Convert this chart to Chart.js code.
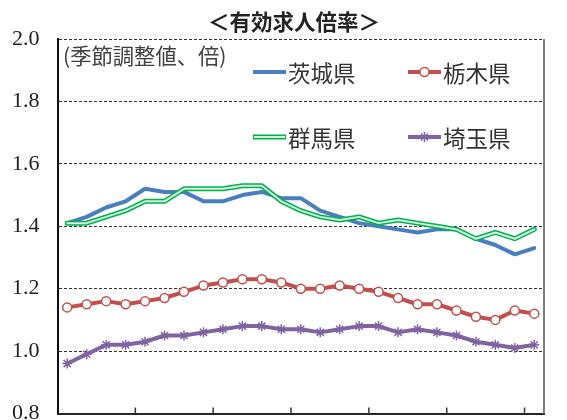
<!DOCTYPE html>
<html lang="ja">
<head>
<meta charset="utf-8">
<script src="https://cdn.jsdelivr.net/npm/chart.js@4/dist/chart.umd.min.js"></script>
<style>
  html, body { margin: 0; padding: 0; background: #fff; }
</style>
</head>
<body>
<canvas id="jobRatioChart" width="567" height="420"></canvas>
<script>
const MONTHS = [
  "1月", "2月", "3月", "4月", "5月", "6月", "7月", "8月", "9月", "10月", "11月", "12月",
  "1月", "2月", "3月", "4月", "5月", "6月", "7月", "8月", "9月", "10月", "11月", "12月",
  "1月"
];

const IBARAKI = [1.41, 1.43, 1.46, 1.48, 1.52, 1.51, 1.51, 1.48, 1.48, 1.50, 1.51, 1.49, 1.49,
  1.45, 1.43, 1.41, 1.40, 1.39, 1.38, 1.39, 1.39, 1.36, 1.34, 1.31, 1.33];
const TOCHIGI = [1.14, 1.15, 1.16, 1.15, 1.16, 1.17, 1.19, 1.21, 1.22, 1.23, 1.23, 1.22, 1.20,
  1.20, 1.21, 1.20, 1.19, 1.17, 1.15, 1.15, 1.13, 1.11, 1.10, 1.13, 1.12];
const GUNMA = [1.41, 1.41, 1.43, 1.45, 1.48, 1.48, 1.52, 1.52, 1.52, 1.53, 1.53, 1.48, 1.45,
  1.43, 1.42, 1.43, 1.41, 1.42, 1.41, 1.40, 1.39, 1.36, 1.38, 1.36, 1.39];
const SAITAMA = [0.96, 0.99, 1.02, 1.02, 1.03, 1.05, 1.05, 1.06, 1.07, 1.08, 1.08, 1.07, 1.07,
  1.06, 1.07, 1.08, 1.08, 1.06, 1.07, 1.06, 1.05, 1.03, 1.02, 1.01, 1.02];

const Y_MIN = 0.8;
const Y_MAX = 2.0;
const Y_STEP = 0.2;
const TICK_EVERY = 4;

const TITLE = "＜有効求人倍率＞";
const NOTE = "(季節調整値、倍)";

const BLUE = "#4a7ebf";
const RED = "#c0504d";
const GREEN = "#00b050";
const GREEN_INNER = "#d4f4dc";
const PURPLE = "#8064a2";
const JP_FONT = '"Noto Sans CJK JP", "Noto Sans", sans-serif';

/* ===== legend sample drawing ===== */
function drawStar(ctx, cx, cy, r, color) {
  ctx.strokeStyle = color;
  ctx.lineWidth = 1.5;
  ctx.beginPath();
  for (let k = 0; k < 4; k++) {
    const a = k * Math.PI / 4;
    ctx.moveTo(cx - Math.cos(a) * r, cy - Math.sin(a) * r);
    ctx.lineTo(cx + Math.cos(a) * r, cy + Math.sin(a) * r);
  }
  ctx.stroke();
}

function drawLegendItem(ctx, ds, x, y) {
  const len = 33;
  ctx.lineCap = "butt";
  ctx.strokeStyle = ds.borderColor;
  ctx.lineWidth = ds.borderWidth;
  ctx.beginPath();
  ctx.moveTo(x, y);
  ctx.lineTo(x + len, y);
  ctx.stroke();

  if (ds.innerColor) {
    ctx.strokeStyle = ds.innerColor;
    ctx.lineWidth = 2;
    ctx.beginPath();
    ctx.moveTo(x + 1, y);
    ctx.lineTo(x + len - 1, y);
    ctx.stroke();
  }
  if (ds.pointRadius > 0) {
    const cx = x + len / 2;
    if (ds.pointStyle === "star") {
      drawStar(ctx, cx, y, ds.pointRadius, ds.pointBorderColor);
    } else {
      ctx.fillStyle = ds.pointBackgroundColor;
      ctx.strokeStyle = ds.pointBorderColor;
      ctx.lineWidth = ds.pointBorderWidth;
      ctx.beginPath();
      ctx.arc(cx, y, ds.pointRadius, 0, Math.PI * 2);
      ctx.fill();
      ctx.stroke();
    }
  }
  ctx.fillStyle = "#333";
  ctx.font = `22.5px ${JP_FONT}`;
  ctx.textAlign = "left";
  ctx.textBaseline = "middle";
  ctx.fillText(ds.label, x + len + 2, y + 1);
}

const LEGEND_SLOTS = [
  { label: "茨城県", x: 253, y: 72 },
  { label: "栃木県", x: 408, y: 72 },
  { label: "群馬県", x: 253, y: 137 },
  { label: "埼玉県", x: 408, y: 137 }
];

const decorPlugin = {
  id: "decor",
  afterDraw(chart) {
    const { ctx, chartArea: a } = chart;
    const xs = chart.scales.x;
    ctx.save();

    // right frame
    ctx.strokeStyle = "#7f7f7f";
    ctx.lineWidth = 2;
    ctx.beginPath();
    ctx.moveTo(a.right, a.top);
    ctx.lineTo(a.right, a.bottom);
    ctx.stroke();

    // inward tick marks between category groups
    ctx.strokeStyle = "#333";
    ctx.lineWidth = 1.5;
    for (let k = TICK_EVERY; k < MONTHS.length; k += TICK_EVERY) {
      const px = (xs.getPixelForValue(k - 1) + xs.getPixelForValue(k)) / 2;
      ctx.beginPath();
      ctx.moveTo(px, a.bottom);
      ctx.lineTo(px, a.bottom - 6);
      ctx.stroke();
    }

    // title and unit note
    ctx.fillStyle = "#222";
    ctx.font = `bold 21.5px ${JP_FONT}`;
    ctx.textAlign = "center";
    ctx.textBaseline = "middle";
    ctx.fillText(TITLE, 294, 22);

    ctx.fillStyle = "#404040";
    ctx.font = `21.3px ${JP_FONT}`;
    ctx.textAlign = "left";
    ctx.fillText(NOTE, 63, 56);

    // legend (2 x 2)
    LEGEND_SLOTS.forEach(slot => {
      const ds = chart.data.datasets.find(d => d.label === slot.label);
      if (ds) drawLegendItem(ctx, ds, slot.x, slot.y);
    });

    ctx.restore();
  }
};

new Chart(document.getElementById("jobRatioChart"), {
  type: "line",
  data: {
    labels: MONTHS,
    datasets: [
      {
        label: "茨城県",
        data: IBARAKI,
        borderColor: BLUE,
        borderWidth: 4,
        pointRadius: 0,
        order: 3
      },
      {
        label: "群馬県",
        data: GUNMA,
        borderColor: GREEN,
        innerColor: GREEN_INNER,
        borderWidth: 5,
        pointRadius: 0,
        order: 2
      },
      {
        label: "群馬県(内側)",
        data: GUNMA,
        borderColor: GREEN_INNER,
        borderWidth: 2,
        pointRadius: 0,
        order: 1
      },
      {
        label: "栃木県",
        data: TOCHIGI,
        borderColor: RED,
        borderWidth: 4,
        pointRadius: 4.5,
        pointBackgroundColor: "#fff",
        pointBorderColor: RED,
        pointBorderWidth: 1.5,
        order: 0
      },
      {
        label: "埼玉県",
        data: SAITAMA,
        borderColor: PURPLE,
        borderWidth: 4,
        pointStyle: "star",
        pointRadius: 5,
        pointBorderColor: PURPLE,
        pointBorderWidth: 1.5,
        order: 0
      }
    ]
  },
  options: {
    responsive: false,
    animation: false,
    events: [],
    layout: { padding: { top: 39, right: 23, left: 0, bottom: 0 } },
    elements: {
      line: { tension: 0, borderJoinStyle: "round", borderCapStyle: "round" }
    },
    plugins: {
      legend: { display: false },
      title: { display: false },
      tooltip: { enabled: false }
    },
    scales: {
      x: {
        type: "category",
        offset: true,
        ticks: { display: false },
        grid: { display: true, offset: true, drawOnChartArea: false, drawTicks: false },
        border: { display: true, color: "#262626", width: 2 },
        afterFit: s => { s.height = 5.3; }
      },
      y: {
        min: Y_MIN,
        max: Y_MAX,
        ticks: {
          stepSize: Y_STEP,
          callback: v => Number(v).toFixed(1),
          font: { family: '"Times New Roman", "Liberation Serif", serif', size: 22 },
          color: "#222",
          padding: 18
        },
        grid: { color: "#333", lineWidth: 1, drawTicks: false },
        border: { display: true, color: "#111", width: 2, dash: [3, 2] },
        afterFit: s => {
          s.width = 57.5;
          s.paddingTop = 0;
          s.paddingBottom = 0;
        }
      }
    }
  },
  plugins: [decorPlugin]
});
</script>
</body>
</html>
